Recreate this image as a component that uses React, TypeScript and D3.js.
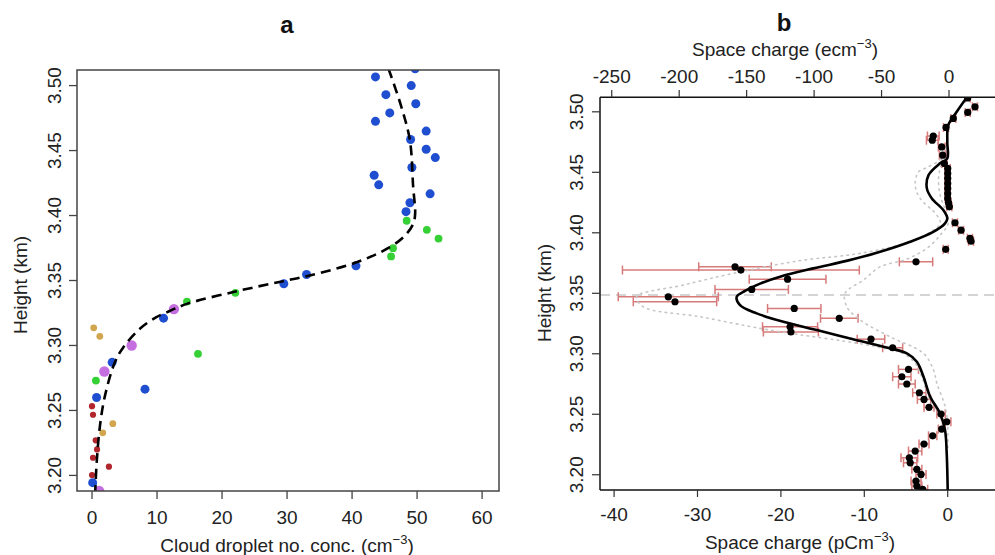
import React from "react";
import * as d3 from "d3";

// ---------- Panel a data ----------
const aBlue: [number, number][] = [
  [43.6, 3.5067], [49.7, 3.513], [49.1, 3.5], [45.2, 3.493], [49.8, 3.486], [45.8, 3.479],
  [43.6, 3.4725], [51.4, 3.465], [49.0, 3.4585], [51.4, 3.451], [52.8, 3.4446], [49.2, 3.437],
  [43.4, 3.431], [44.1, 3.4236], [52.0, 3.4167], [48.9, 3.4098], [48.3, 3.403],
  [40.6, 3.3613], [33.0, 3.3546], [29.5, 3.3475], [11.0, 3.321], [3.1, 3.287],
  [8.15, 3.2664], [0.7, 3.26], [0.1, 3.1944],
];
const aGreen: [number, number][] = [
  [48.4, 3.396], [51.5, 3.389], [53.3, 3.3823], [46.3, 3.3749], [46.0, 3.3685],
  [22.05, 3.3405], [14.6, 3.3338], [16.3, 3.2936], [0.6, 3.273],
];
const aPurple: [number, number][] = [
  [12.6, 3.328], [6.1, 3.3], [1.9, 3.28], [1.1, 3.188],
];
const aGold: [number, number][] = [
  [0.26, 3.3136], [1.2, 3.307], [3.2, 3.2398], [1.65, 3.2328],
];
const aRed: [number, number][] = [
  [0, 3.2533], [0.15, 3.2467], [0.57, 3.227], [0.77, 3.22], [0.15, 3.2136], [2.6, 3.2067], [0, 3.2003],
];
const aFit: [number, number][] = [
  [45.6, 3.513], [47.5, 3.485], [48.9, 3.4577], [49.4, 3.4218], [49.7, 3.4013], [49.4, 3.3936],
  [48.15, 3.3846], [45.8, 3.3756], [40.7, 3.364], [33.0, 3.3533], [29.4, 3.3495], [22.05, 3.3415],
  [14.6, 3.332], [11.5, 3.3255], [9.9, 3.3218], [7.4, 3.313], [4.8, 3.2985], [3.5, 3.2868],
  [2.0, 3.2615], [1.23, 3.2385], [0.72, 3.2103], [0.5, 3.188],
];
const aXTicks = [0, 10, 20, 30, 40, 50, 60];
const aYTicks = [3.2, 3.25, 3.3, 3.35, 3.4, 3.45, 3.5];

// ---------- Panel b data ----------
// [space charge pC m^-3, height km, error half-width]
const bPoints: [number, number, number][] = [
  [2.4, 3.5115, 0.3], [3.27, 3.5041, 0.3], [2.4, 3.4995, 0.3], [0.67, 3.4945, 0.3], [-0.2, 3.4871, 0.3],
  [-1.73, 3.48, 0.7], [-1.85, 3.4766, 0.7], [-0.72, 3.471, 0.4], [-0.6, 3.4642, 0.4], [-0.4, 3.4573, 0.3],
  [0, 3.4532, 0.3], [0, 3.4491, 0.3], [0, 3.445, 0.3], [0, 3.4408, 0.3], [0, 3.4367, 0.3],
  [0, 3.4325, 0.3], [0, 3.4284, 0.3], [0.1, 3.4248, 0.3], [0.2, 3.4215, 0.3],
  [0.87, 3.4083, 0.3], [1.6, 3.4022, 0.3], [2.67, 3.3954, 0.3], [2.8, 3.393, 0.3], [-0.24, 3.3863, 0.3],
  [-3.8, 3.376, 2.0], [-25.5, 3.3719, 4.35], [-24.8, 3.3692, 14.2], [-19.2, 3.3617, 4.6],
  [-23.5, 3.3532, 4.4], [-33.5, 3.3471, 6.0], [-32.7, 3.343, 5.0], [-18.4, 3.3375, 3.2],
  [-13.0, 3.3293, 2.25], [-18.9, 3.3223, 3.3], [-18.8, 3.318, 3.3], [-9.2, 3.3121, 1.65],
  [-6.6, 3.305, 1.2], [-4.7, 3.2871, 1.2], [-5.5, 3.281, 1.1], [-4.9, 3.275, 1.0],
  [-3.4, 3.2678, 0.8], [-2.84, 3.2623, 0.8], [-2.24, 3.2557, 0.6], [-0.8, 3.2502, 0.5],
  [-0.12, 3.2438, 0.5], [-0.72, 3.2378, 0.4], [-1.8, 3.2322, 0.5], [-2.84, 3.2254, 0.6],
  [-3.9, 3.2196, 0.8], [-4.6, 3.214, 1.0], [-4.5, 3.2099, 0.8], [-3.7, 3.2045, 0.6],
  [-3.2, 3.2003, 0.6], [-3.8, 3.1948, 0.6], [-3.7, 3.1907, 0.6], [-3.0, 3.188, 0.6],
];
const bFit: [number, number][] = [
  [2.3, 3.512], [1.08, 3.5], [0.07, 3.489], [-0.05, 3.475], [-0.05, 3.4615], [-0.92, 3.4574],
  [-2.3, 3.4477], [-2.5, 3.4367], [-1.9, 3.4284], [-0.53, 3.4188], [-0.05, 3.4119], [-0.32, 3.4078],
  [-1.73, 3.4008], [-4.5, 3.3926], [-8.1, 3.3843], [-12, 3.377], [-16.1, 3.3706], [-20.1, 3.3637],
  [-22.5, 3.358], [-24.3, 3.352], [-25.3, 3.3471], [-24.9, 3.3402], [-22.9, 3.3334], [-19.7, 3.3264],
  [-15.7, 3.3196], [-11.7, 3.3127], [-7.7, 3.3058], [-4.9, 3.3003], [-3.7, 3.2934], [-2.9, 3.281],
  [-2.1, 3.2645], [-0.92, 3.2507], [-0.32, 3.2369], [-0.12, 3.2177], [0, 3.1874],
];
const bLowBand: [number, number][] = [
  [-0.2, 3.47], [-1.0, 3.46], [-2.5, 3.454], [-3.5, 3.4504], [-3.9, 3.4394], [-3.3, 3.4284],
  [-1.3, 3.4146], [-0.9, 3.4078], [-2.0, 3.401], [-4.5, 3.3926], [-10.5, 3.383], [-17.7, 3.377],
  [-25.7, 3.3665], [-31.7, 3.3568], [-37.3, 3.3471], [-36.5, 3.3388], [-29.7, 3.3306],
  [-22.5, 3.321], [-18, 3.316], [-12.5, 3.3105], [-8.3, 3.3055], [-5.3, 3.3], [-4.0, 3.293],
  [-3.1, 3.281], [-2.3, 3.2645], [-1.1, 3.2507], [-0.4, 3.2369], [-0.15, 3.2177],
];
const bHighBand: [number, number][] = [
  [-0.1, 3.47], [-0.7, 3.4587], [-1.1, 3.445], [-0.9, 3.4311], [-0.3, 3.4188], [0.07, 3.4078],
  [-0.9, 3.398], [-2.5, 3.3871], [-5, 3.378], [-8.1, 3.3719], [-10.1, 3.361], [-12.3, 3.35],
  [-12.1, 3.3389], [-10.5, 3.3279], [-6.9, 3.314], [-2.9, 3.3003], [-1.7, 3.2865], [-1.3, 3.2755],
  [-0.3, 3.2562], [0, 3.24], [0, 3.22],
];
const bRefHeight = 3.3486;
const bXTicks = [-40, -30, -20, -10, 0];
const bTopTicks = [-250, -200, -150, -100, -50, 0];
const bYTicks = [3.2, 3.25, 3.3, 3.35, 3.4, 3.45, 3.5];

const FONT = "'Liberation Sans', Arial, Helvetica, sans-serif";
const TXT = "#222";

export default function App() {
  // Panel a scales
  const ax = d3.scaleLinear().domain([-2.31, 62.6]).range([77, 499]);
  const ay = d3.scaleLinear().domain([3.188, 3.512]).range([491, 70]);
  // Panel b scales
  const bx = d3.scaleLinear().domain([-41.69, 6.27]).range([600, 1000]);
  const bxTop = d3.scaleLinear().domain([-258.7, 37.8]).range([600, 1000]);
  const by = d3.scaleLinear().domain([3.1874, 3.512]).range([490, 97.3]);

  const aLine = d3
    .line<[number, number]>()
    .x((d) => ax(d[0]))
    .y((d) => ay(d[1]))
    .curve(d3.curveCatmullRom.alpha(0.5));
  const bLine = d3
    .line<[number, number]>()
    .x((d) => bx(d[0]))
    .y((d) => by(d[1]))
    .curve(d3.curveCatmullRom.alpha(0.5));

  const fmt2 = d3.format(".2f");
  const fs = 19;

  const groups: { data: [number, number][]; color: string; r: number }[] = [
    { data: aRed, color: "#b0262c", r: 3.1 },
    { data: aGold, color: "#d2a64e", r: 3.4 },
    { data: aGreen, color: "#35d035", r: 3.9 },
    { data: aBlue, color: "#1f4fd0", r: 4.5 },
    { data: aPurple, color: "#c56ee0", r: 5.2 },
  ];

  return (
    <div style={{ position: "absolute", left: 0, top: 0 }}>
      <svg width={995} height={555} style={{ display: "block", background: "#fff" }} fontFamily={FONT}>
        <defs>
          <clipPath id="clipA">
            <rect x={77} y={70} width={422} height={421} />
          </clipPath>
          <clipPath id="clipB">
            <rect x={600} y={97.3} width={400} height={392.7} />
          </clipPath>
        </defs>

        {/* ---------------- Panel a ---------------- */}
        <text x={287} y={33} textAnchor="middle" fontWeight="bold" fontSize={24} fill="#111">a</text>
        <g clipPath="url(#clipA)">
          {groups.map((g, gi) =>
            g.data.map((d, i) => (
              <circle key={`a${gi}-${i}`} cx={ax(d[0])} cy={ay(d[1])} r={g.r} fill={g.color} />
            ))
          )}
          <path d={aLine(aFit) || ""} fill="none" stroke="#000" strokeWidth={2.6} strokeDasharray="10,6" />
        </g>
        <rect x={77} y={70} width={422} height={421} fill="none" stroke="#444" strokeWidth={1.5} />
        {aXTicks.map((t) => (
          <g key={`axt${t}`}>
            <line x1={ax(t)} x2={ax(t)} y1={491} y2={499} stroke="#444" strokeWidth={1.3} />
            <text x={ax(t)} y={524} textAnchor="middle" fontSize={fs} fill={TXT}>{t}</text>
          </g>
        ))}
        {aYTicks.map((t) => (
          <g key={`ayt${t}`}>
            <line x1={69} x2={77} y1={ay(t)} y2={ay(t)} stroke="#444" strokeWidth={1.3} />
            <text
              transform={`translate(61,${ay(t)}) rotate(-90)`}
              textAnchor="middle"
              fontSize={fs}
              fill={TXT}
            >
              {fmt2(t)}
            </text>
          </g>
        ))}
        <text x={287} y={552} textAnchor="middle" fontSize={fs} fill={TXT}>
          Cloud droplet no. conc. (cm
          <tspan fontSize={13} dy={-8}>−3</tspan>
          <tspan dy={8}>)</tspan>
        </text>
        <text transform={`translate(27,285) rotate(-90)`} textAnchor="middle" fontSize={fs} fill={TXT}>
          Height (km)
        </text>

        {/* ---------------- Panel b ---------------- */}
        <text x={784} y={31} textAnchor="middle" fontWeight="bold" fontSize={24} fill="#111">b</text>
        <text x={785} y={56} textAnchor="middle" fontSize={fs} fill={TXT}>
          Space charge (ecm
          <tspan fontSize={13} dy={-8}>−3</tspan>
          <tspan dy={8}>)</tspan>
        </text>
        <g clipPath="url(#clipB)">
          <line
            x1={600}
            x2={1000}
            y1={by(bRefHeight)}
            y2={by(bRefHeight)}
            stroke="#c8c8c8"
            strokeWidth={1.6}
            strokeDasharray="10,6"
          />
          {bPoints.map((d, i) => {
            const y = by(d[1]);
            const x0 = bx(d[0] - d[2]);
            const x1 = bx(d[0] + d[2]);
            return (
              <g key={`eb${i}`} stroke="#d77a7a" strokeWidth={1.5}>
                <line x1={x0} x2={x1} y1={y} y2={y} />
                <line x1={x0} x2={x0} y1={y - 4.5} y2={y + 4.5} />
                <line x1={x1} x2={x1} y1={y - 4.5} y2={y + 4.5} />
              </g>
            );
          })}
          <path d={bLine(bLowBand) || ""} fill="none" stroke="#c6c6c6" strokeWidth={1.6} strokeDasharray="1.5,4.5" strokeLinecap="round" />
          <path d={bLine(bHighBand) || ""} fill="none" stroke="#c6c6c6" strokeWidth={1.6} strokeDasharray="1.5,4.5" strokeLinecap="round" />
          <path d={bLine(bFit) || ""} fill="none" stroke="#000" strokeWidth={2.6} />
          {bPoints.map((d, i) => (
            <circle key={`bp${i}`} cx={bx(d[0])} cy={by(d[1])} r={3.6} fill="#000" />
          ))}
        </g>
        <line x1={600} x2={1000} y1={97.3} y2={97.3} stroke="#111" strokeWidth={1.5} />
        <line x1={600} x2={1000} y1={490} y2={490} stroke="#111" strokeWidth={1.5} />
        <line x1={600} x2={600} y1={97.3} y2={490} stroke="#111" strokeWidth={1.5} />
        {bXTicks.map((t) => (
          <g key={`bxt${t}`}>
            <line x1={bx(t)} x2={bx(t)} y1={490} y2={497} stroke="#333" strokeWidth={1.2} />
            <text x={bx(t)} y={521} textAnchor="middle" fontSize={fs} fill={TXT}>{t === 0 ? "0" : `-${Math.abs(t)}`}</text>
          </g>
        ))}
        {bTopTicks.map((t) => (
          <g key={`btt${t}`}>
            <line x1={bxTop(t)} x2={bxTop(t)} y1={90} y2={97.3} stroke="#333" strokeWidth={1.2} />
            <text x={bxTop(t)} y={83} textAnchor="middle" fontSize={fs} fill={TXT}>{t === 0 ? "0" : `-${Math.abs(t)}`}</text>
          </g>
        ))}
        {bYTicks.map((t) => (
          <g key={`byt${t}`}>
            <line x1={592} x2={600} y1={by(t)} y2={by(t)} stroke="#333" strokeWidth={1.2} />
            <text
              transform={`translate(583,${by(t)}) rotate(-90)`}
              textAnchor="middle"
              fontSize={fs}
              fill={TXT}
            >
              {fmt2(t)}
            </text>
          </g>
        ))}
        <text x={800} y={549} textAnchor="middle" fontSize={fs} fill={TXT}>
          Space charge (pCm
          <tspan fontSize={13} dy={-8}>−3</tspan>
          <tspan dy={8}>)</tspan>
        </text>
        <text transform={`translate(551,293) rotate(-90)`} textAnchor="middle" fontSize={fs} fill={TXT}>
          Height (km)
        </text>
      </svg>
    </div>
  );
}
